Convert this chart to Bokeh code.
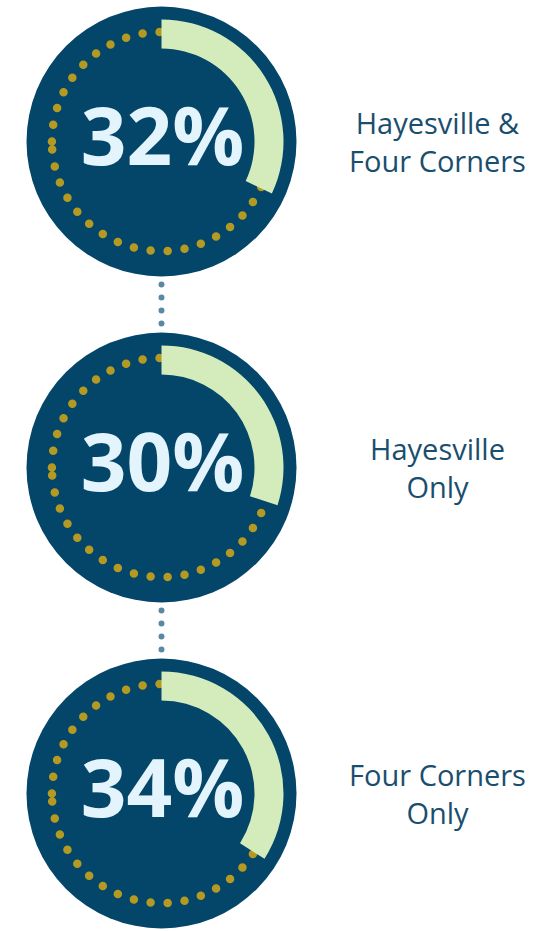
import math
from bokeh.plotting import figure
from bokeh.models import Range1d
from bokeh.core.properties import value
from bokeh.embed import file_html
from bokeh.resources import INLINE

# ---- data ----
pct_values = [32, 30, 34]
pct_labels = ["32%", "30%", "34%"]
group_labels = ["Hayesville &\nFour Corners", "Hayesville\nOnly", "Four Corners\nOnly"]

# ---- layout constants (image pixel coordinates) ----
W, H = 548, 931
CX = 161
CY_IMG = [141, 467, 793]
R_DISC = 135
R_ARC_IN, R_ARC_OUT = 93, 122
R_DOTS = 109.6
LABEL_X = 437

NAVY = "#034669"
ARC = "#d4ecbc"
GOLD = "#b49a22"
TXT = "#e3f4fd"
LABEL = "#1a4e6e"
CONNECT = "#5a87a3"

p = figure(width=W, height=H, output_backend="svg", toolbar_location=None,
           x_range=Range1d(0, W), y_range=Range1d(0, H), min_border=0)
p.axis.visible = False
p.grid.visible = False
p.outline_line_color = None
p.background_fill_color = "white"
p.border_fill_color = "white"

def Y(yimg):
    return H - yimg

cys = [Y(c) for c in CY_IMG]

# connectors (behind discs)
for i in range(len(cys) - 1):
    p.line([CX, CX], [cys[i], cys[i + 1]], line_color=CONNECT, line_width=6,
           line_dash="0 13", line_cap="round")

# discs
p.circle(x=[CX] * 3, y=cys, radius=R_DISC, fill_color=NAVY, line_color=None)

# dotted rings
for cy in cys:
    p.arc(x=CX, y=cy, radius=R_DOTS, start_angle=math.pi, end_angle=-math.pi + 1e-4,
          direction="clock", line_color=GOLD, line_width=8.5, line_dash="0 17",
          line_cap="round")

# progress arcs
for v, cy in zip(pct_values, cys):
    frac = v / 100.0
    p.annular_wedge(x=CX, y=cy, inner_radius=R_ARC_IN, outer_radius=R_ARC_OUT,
                    start_angle=math.pi / 2 - 2 * math.pi * frac, end_angle=math.pi / 2,
                    direction="anticlock", fill_color=ARC, line_color=None)

# percentage text
p.text(x=[CX + 1] * 3, y=[c + 8 for c in cys], text=pct_labels,
       text_font=value("Open Sans"), text_font_style="bold", text_font_size="80px",
       text_color=TXT, text_align="center", text_baseline="alphabetic")

# group labels
p.text(x=[LABEL_X] * 3, y=cys, text=group_labels,
       text_font=value("Open Sans"), text_font_size="29px", text_color=LABEL,
       text_align="center", text_baseline="middle", text_line_height=0.95)

open("out.html", "w").write(file_html(p, INLINE))
